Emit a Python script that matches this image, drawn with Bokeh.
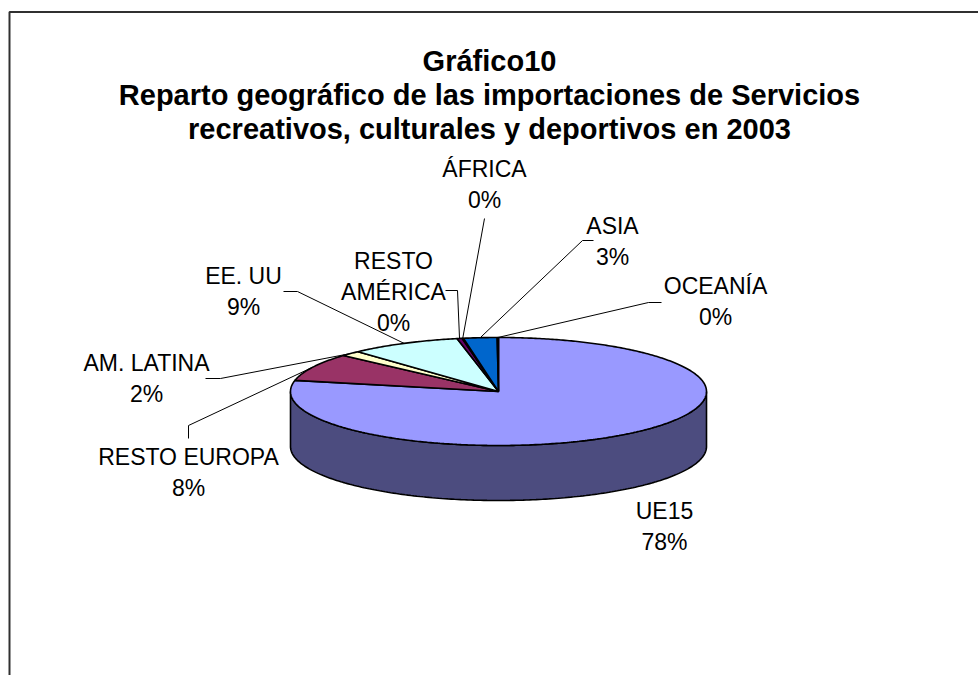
import numpy as np
from bokeh.plotting import figure
from bokeh.models import Range1d
from bokeh.core.properties import value
from bokeh.embed import file_html
from bokeh.resources import INLINE

# ---------------- data ----------------
title_lines = ["Gráfico10",
               "Reparto geográfico de las importaciones de Servicios",
               "recreativos, culturales y deportivos en 2003"]
categories = ["UE15", "RESTO EUROPA", "AM. LATINA", "EE. UU", "RESTO\nAMÉRICA",
              "ÁFRICA", "ASIA", "OCEANÍA"]
shares = [78.3, 8.3, 1.6, 8.6, 0.4, 0.1, 2.6, 0.1]
colors = ["#9999FF", "#993366", "#FFFFCC", "#CCFFFF", "#660066",
          "#FF8080", "#0066CC", "#CCCCFF"]

# ---------------- layout ----------------
W, H = 978, 675
CX, CY, A, B, DEPTH = 498.0, 391.0, 208.0, 54.0, 55.0
LINE_GAP = 31
label_pos = [(664, 510), (188, 456), (146, 362), (243, 275), (393, 260),
             (484, 168), (612, 225), (715, 285)]
leader_elbows = [[], [(188, 438), (188, 425)], [(205, 378), (220, 378)],
                 [(283, 291), (297, 291)], [(445, 290), (457, 290)],
                 [(484, 218)], [(593, 240), (582, 240)], [(661, 302), (648, 302)]]
FONT = "Liberation Sans"


def darker(hexcol, f=0.5):
    h = hexcol.lstrip("#")
    r, g, b = (int(h[i:i + 2], 16) for i in (0, 2, 4))
    return "#%02X%02X%02X" % (int(r * f), int(g * f), int(b * f))


def proj(theta, dz=0.0):
    return CX + A * np.sin(theta), CY - B * np.cos(theta) + dz


p = figure(width=W, height=H, output_backend="svg", toolbar_location=None,
           x_range=Range1d(0, W), y_range=Range1d(H, 0),
           min_border=0, outline_line_color=None)
p.axis.visible = False
p.grid.visible = False
p.background_fill_color = "white"
p.border_fill_color = "white"

# chart frame (top and left edges visible)
p.line([9, 9, W], [H, 11.5, 11.5], line_color="#303030", line_width=2)

# slice angles
vals = np.array(shares, dtype=float)
frac = vals / vals.sum()
ends = np.cumsum(frac) * 2 * np.pi
starts = ends - frac * 2 * np.pi

# side walls (front half only)
side_xs, side_ys, side_cols = [], [], []
for s, e, c in zip(starts, ends, colors):
    a0, a1 = max(s, np.pi / 2), min(e, 3 * np.pi / 2)
    if a1 <= a0:
        continue
    t = np.linspace(a0, a1, 200)
    xt, yt = proj(t)
    xb, yb = proj(t[::-1], DEPTH)
    side_xs.append(np.concatenate([xt, xb]))
    side_ys.append(np.concatenate([yt, yb]))
    side_cols.append(darker(c))
p.patches(side_xs, side_ys, fill_color=side_cols, line_color="black", line_width=1.6)

# top faces
top_xs, top_ys = [], []
for s, e in zip(starts, ends):
    n = max(4, int((e - s) / (2 * np.pi) * 600))
    t = np.linspace(s, e, n)
    x, y = proj(t)
    top_xs.append(np.concatenate([[CX], x, [CX]]))
    top_ys.append(np.concatenate([[CY], y, [CY]]))
p.patches(top_xs, top_ys, fill_color=colors, line_color="black", line_width=1.6)

# leader lines
lx, ly = [], []
for (s, e), elb in zip(zip(starts, ends), leader_elbows):
    if not elb:
        continue
    mx, my = proj((s + e) / 2)
    lx.append([q[0] for q in elb] + [mx])
    ly.append([q[1] for q in elb] + [my])
p.multi_line(lx, ly, line_color="black", line_width=1)

# labels
tx, ty, tt = [], [], []
for cat, v, (x0, y0) in zip(categories, vals, label_pos):
    lines = cat.split("\n") + ["%d%%" % int(round(v))]
    for i, ln in enumerate(lines):
        tx.append(x0)
        ty.append(y0 + i * LINE_GAP)
        tt.append(ln)
p.text(tx, ty, text=tt, text_font=value(FONT), text_font_size="23px",
       text_align="center", text_baseline="middle", text_color="black")

# title
p.text([489, 489, 489], [60, 94, 128], text=title_lines, text_font=value(FONT),
       text_font_size="29px", text_font_style="bold", text_align="center",
       text_baseline="middle", text_color="black")

open("out.html", "w").write(file_html(p, INLINE))
